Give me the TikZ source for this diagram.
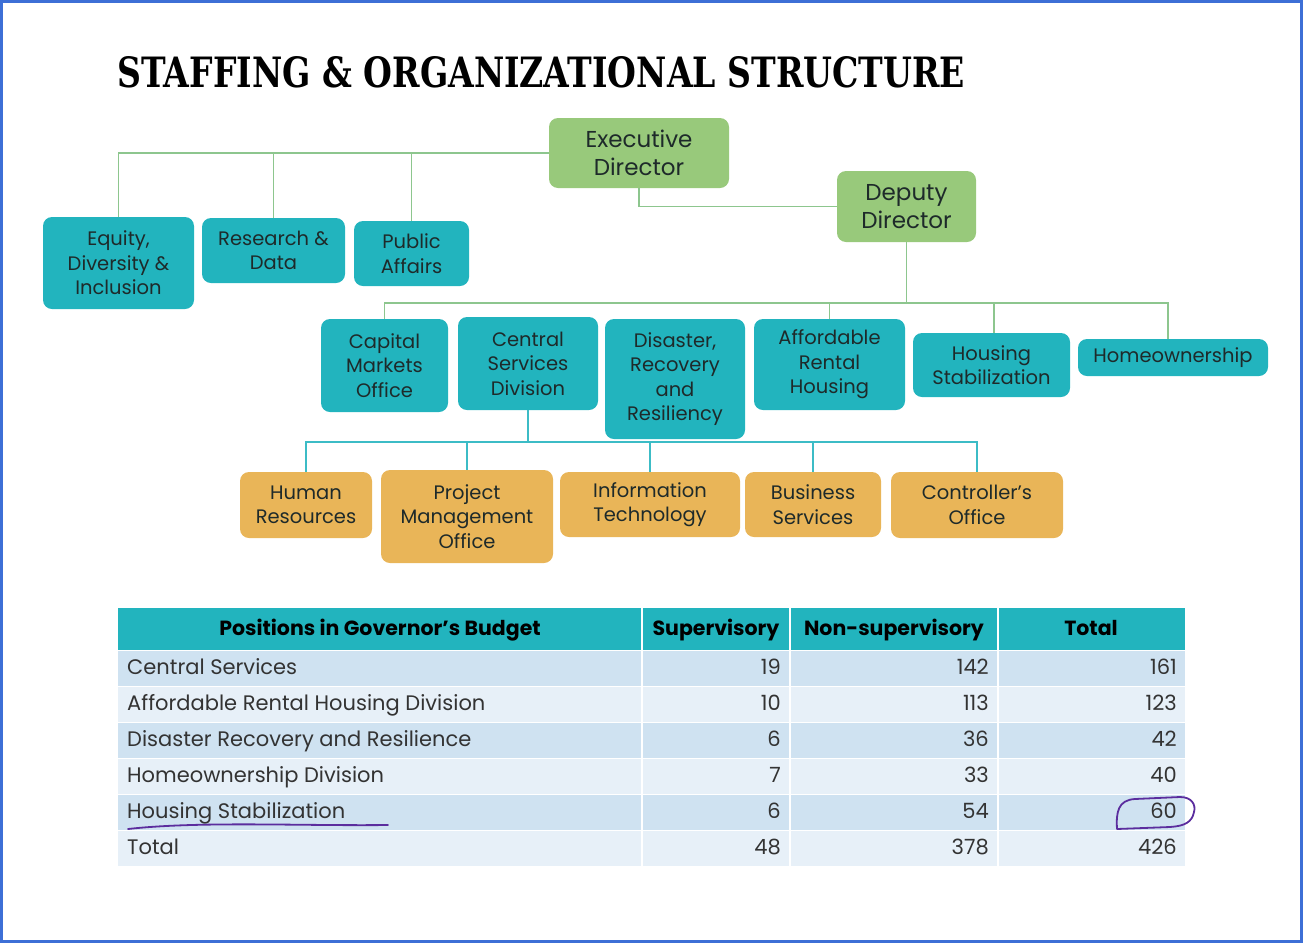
\documentclass[tikz,border=0pt]{standalone}
\usepackage{fontspec}
\setmainfont{Poppins}
\newfontfamily\titlefont{DejaVu Serif}

\definecolor{frameblue}{HTML}{3D6FD6}
\definecolor{topgreen}{HTML}{98C97B}
\definecolor{divteal}{HTML}{22B4BE}
\definecolor{unitorange}{HTML}{E9B558}
\definecolor{linegreen}{HTML}{8DC68E}
\definecolor{lineteal}{HTML}{3CBCC6}
\definecolor{boxtext}{HTML}{1E2A2A}
\definecolor{headteal}{HTML}{22B4BE}
\definecolor{rowdark}{HTML}{CFE2F1}
\definecolor{rowlight}{HTML}{E7F0F8}
\definecolor{inkpurple}{HTML}{5B2D9E}

\tikzset{
  orgbox/.style={rectangle, rounded corners=9pt, inner sep=0pt, align=center,
    text=boxtext, font=\fontsize{19.5}{24.5}\selectfont},
  topbox/.style={orgbox, fill=topgreen, font=\fontsize{23}{28}\selectfont},
  divbox/.style={orgbox, fill=divteal},
  unitbox/.style={orgbox, fill=unitorange},
  greenline/.style={draw=linegreen, line width=1.6pt},
  tealline/.style={draw=lineteal, line width=1.6pt},
  celltext/.style={inner sep=0pt, text height=15pt, text depth=5pt,
    text=black!80, font=\fontsize{21}{24}\selectfont},
  headtext/.style={celltext, text=black, font=\fontsize{20.5}{24}\selectfont\bfseries},
}

\begin{document}
\begin{tikzpicture}[x=1pt,y=-1pt]
\useasboundingbox (0,0) rectangle (1303,943);
\draw[color=frameblue, line width=2.2pt] (1.5,1.5) rectangle (1301.5,941.5);

\node[anchor=base west, inner sep=0pt] (title) at (117,87)
  {\resizebox{848pt}{31pt}{\titlefont\bfseries STAFFING \& ORGANIZATIONAL STRUCTURE}};

% directors
\node[topbox, minimum width=180pt, minimum height=70pt] (exec) at (639,153) {Executive\\Director};
\node[topbox, minimum width=139pt, minimum height=71pt] (deputy) at (906.5,206.5) {Deputy\\Director};

% offices under the executive director
\node[divbox, minimum width=151pt, minimum height=92pt] (equity) at (118.5,263) {Equity,\\Diversity \&\\Inclusion};
\node[divbox, minimum width=143pt, minimum height=65pt] (research) at (273.5,250.5) {Research \&\\Data};
\node[divbox, minimum width=115pt, minimum height=65pt] (public) at (411.5,253.5) {Public\\Affairs};

% divisions
\node[divbox, minimum width=127pt, minimum height=93pt] (capital) at (384.5,365.5) {Capital\\Markets\\Office};
\node[divbox, minimum width=140pt, minimum height=93pt] (central) at (528,363.5) {Central\\Services\\Division};
\node[divbox, minimum width=140pt, minimum height=120pt] (disaster) at (675,379) {Disaster,\\Recovery\\and\\Resiliency};
\node[divbox, minimum width=151pt, minimum height=91pt] (rental) at (829.5,364.5) {Affordable\\Rental\\Housing};
\node[divbox, minimum width=157pt, minimum height=64pt] (stabilize) at (991.5,365) {Housing\\Stabilization};
\node[divbox, minimum width=190pt, minimum height=37pt] (homeown) at (1173,357.5) {Homeownership};

% central services units
\node[unitbox, minimum width=132pt, minimum height=66pt] (hr) at (306,505) {Human\\Resources};
\node[unitbox, minimum width=172pt, minimum height=93pt] (pmo) at (467,516.5) {Project\\Management\\Office};
\node[unitbox, minimum width=180pt, minimum height=65pt] (infotech) at (650,504.5) {Information\\Technology};
\node[unitbox, minimum width=136pt, minimum height=65pt] (business) at (813,504.5) {Business\\Services};
\node[unitbox, minimum width=172pt, minimum height=66pt] (controller) at (977,505) {Controller's\\Office};

% connectors
\draw[greenline] (exec.west) -| (equity.north);
\draw[greenline] (research.north) |- (exec.west);
\draw[greenline] (public.north) |- (exec.west);
\draw[greenline] (exec.south) |- (deputy.west);

\coordinate (dbus) at (906.5,303);
\draw[greenline] (deputy.south) -- (dbus);
\draw[greenline] (capital.north) |- (dbus) -| ([xshift=-5pt]homeown.north);
\draw[greenline] (rental.north) -- (rental.north |- dbus);
\draw[greenline] ([xshift=2.5pt]stabilize.north) -- ([xshift=2.5pt]stabilize.north |- dbus);

\coordinate (cbus) at (528,442);
\draw[tealline] (central.south) -- (cbus);
\draw[tealline] (hr.north) |- (cbus) -| (controller.north);
\draw[tealline] (pmo.north) -- (pmo.north |- cbus);
\draw[tealline] (infotech.north) -- (infotech.north |- cbus);
\draw[tealline] (business.north) -- (business.north |- cbus);

% staffing table
\fill[color=headteal] (118,608) rectangle (1185,650);
\foreach \i/\rowc in {0/rowdark,1/rowlight,2/rowdark,3/rowlight,4/rowdark,5/rowlight}
  \fill[color=\rowc] (118,{650+36*\i}) rectangle (1185,{686+36*\i});
\foreach \i in {0,...,5}
  \draw[white, line width=1pt] (118,{650+36*\i}) -- (1185,{650+36*\i});
\foreach \x in {642,790,998}
  \draw[white, line width=2pt] (\x,608) -- (\x,866);

\node[headtext] (hpos) at (380,630) {Positions in Governor's Budget};
\node[headtext] (hsup) at (716,630) {Supervisory};
\node[headtext] (hnon) at (894,630) {Non-supervisory};
\node[headtext] (htot) at (1091,630) {Total};

\foreach \i/\lab/\nsup/\nnon/\ntot in {0/Central Services/19/142/161,
    1/Affordable Rental Housing Division/10/113/123,
    2/Disaster Recovery and Resilience/6/36/42,
    3/Homeownership Division/7/33/40,
    4/Housing Stabilization/6/54/60,
    5/Total/48/378/426} {
  \node[celltext, anchor=west] (lab\i) at (127,{669+36*\i}) {\lab};
  \node[celltext, anchor=east] (sup\i) at (781,{669+36*\i}) {\nsup};
  \node[celltext, anchor=east] (non\i) at (989,{669+36*\i}) {\nnon};
  \node[celltext, anchor=east] (tot\i) at (1177,{669+36*\i}) {\ntot};
}

% pen marks
\draw[inkpurple, line width=1.8pt, line cap=round]
  (128,829) .. controls (200,821) and (300,826) .. (388,825);
\draw[inkpurple, line width=1.8pt, line cap=round, line join=round]
  (1117,829) .. controls (1116,812) and (1118,800) .. (1135,799) -- (1180,797)
  .. controls (1192,797) and (1196,805) .. (1194,812)
  .. controls (1192,822) and (1185,826) .. (1170,827) -- (1117,829);
\end{tikzpicture}
\end{document}
